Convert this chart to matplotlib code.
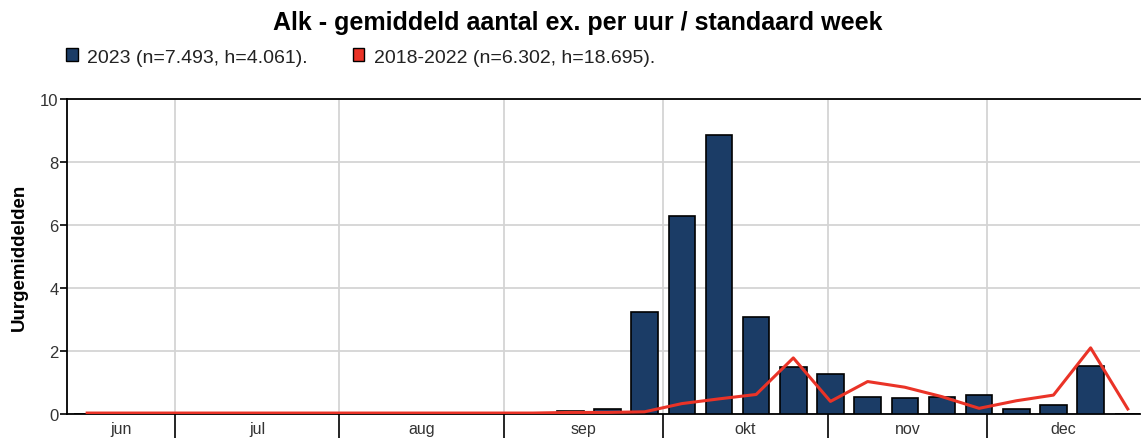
import matplotlib
matplotlib.use('agg')
import matplotlib.pyplot as plt
from matplotlib.patches import Patch

plt.rcParams['font.family'] = ['Liberation Sans', 'DejaVu Sans']

# standard weeks (1 = Jan 1-7), values per week
weeks = list(range(24, 53))
bars_2023 = [0.0] * 13 + [0.10, 0.16, 3.23, 6.30, 8.87, 3.07, 1.48, 1.27,
                          0.55, 0.51, 0.55, 0.60, 0.15, 0.30, 1.53, 0.0]
avg_1822 = [0.03] * 13 + [0.05, 0.05, 0.07, 0.33, 0.48, 0.62, 1.78, 0.40,
                          1.03, 0.85, 0.55, 0.18, 0.42, 0.60, 2.10, 0.16]

months = ['jun', 'jul', 'aug', 'sep', 'okt', 'nov', 'dec']
month_start = [151, 181, 212, 243, 273, 304, 334, 365]  # day of year (0-based)

label_2023 = '2023 (n=7.493, h=4.061).'
label_1822 = '2018-2022 (n=6.302, h=18.695).'

navy = '#1b3c66'
red = '#ea3327'

x = [(w - 1) * 7 + 3.5 for w in weeks]
xmin, xmax = 160.7, 362.8

fig = plt.figure(figsize=(11.41, 4.39), dpi=100)
ax = fig.add_axes([67 / 1141, 1 - 415 / 439, 1073 / 1141, 315 / 439])

ax.bar(x, bars_2023, width=5.0, color=navy, edgecolor='black', linewidth=1.2, zorder=3)
ax.plot(x, avg_1822, color=red, lw=2.2, zorder=4)

ax.set_xlim(xmin, xmax)
ax.set_ylim(0, 10)
ax.set_yticks([0, 2, 4, 6, 8, 10])
ax.tick_params(axis='y', length=5, width=1.2, colors='black', labelcolor='#333333',
               labelsize=12, pad=1)

# month boundaries as major ticks, names centered as minor ticks
bounds = [m for m in month_start if xmin < m < xmax]
ax.set_xticks(bounds)
ax.set_xticklabels([])
ax.tick_params(axis='x', which='major', length=24, width=1.2, color='black')
centers = []
for a, b in zip(month_start[:-1], month_start[1:]):
    centers.append((max(a, xmin) + min(b, xmax)) / 2)
ax.set_xticks(centers, minor=True)
ax.set_xticklabels(months, minor=True)
ax.tick_params(axis='x', which='minor', length=0, labelsize=11.5, labelcolor='#333333', pad=5)

ax.grid(True, which='major', color='#d4d4d4', lw=1.3, zorder=0)
for s in ['left', 'bottom', 'top']:
    ax.spines[s].set_linewidth(1.3)
ax.spines['right'].set_visible(False)

ax.set_ylabel('Uurgemiddelden', fontsize=13.5, fontweight='bold', labelpad=9)

fig.text(578 / 1141, 1 - 23 / 439, 'Alk - gemiddeld aantal ex. per uur / standaard week',
         ha='center', va='center', fontsize=18, fontweight='bold')

handles = [Patch(facecolor=navy, edgecolor='black', lw=1.0),
           Patch(facecolor=red, edgecolor='black', lw=1.0)]
fig.legend(handles, [label_2023, label_1822], loc='center left',
           bbox_to_anchor=(66 / 1141, 1 - 58 / 439), ncol=2, frameon=False,
           fontsize=14, handlelength=0.6, handleheight=0.6, handletextpad=0.5,
           columnspacing=2.3, borderpad=0, borderaxespad=0, labelcolor='#222222')

plt.savefig('out.png', dpi=100)
